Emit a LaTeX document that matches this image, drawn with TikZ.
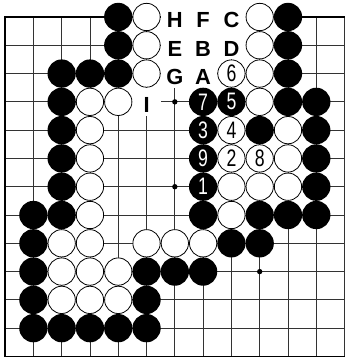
\documentclass[tikz,border=0pt]{standalone}
\usepackage{fontspec}
\setmainfont{Liberation Sans}
\newfontfamily\numfont[FakeStretch=0.74]{Liberation Sans}
\usetikzlibrary{positioning}

\begin{document}
\begin{tikzpicture}[
  every node/.style={inner sep=0pt, outer sep=0pt},
  gridline/.style={line width=0.9pt, black!80},
  edgeline/.style={line width=1.8pt, black, line join=miter},
  bstone/.style={circle, minimum size=1cm, fill=black},
  wstone/.style={circle, minimum size=0.965cm, draw=black, line width=0.8pt, fill=white},
  bnum/.style={bstone, text=white, font=\numfont\fontsize{24pt}{24pt}\selectfont},
  wnum/.style={wstone, text=black, font=\numfont\fontsize{24pt}{24pt}\selectfont},
  letterbox/.style={rectangle, minimum size=1cm, fill=white,
    text height=0.76cm, text depth=0cm,
    font=\fontsize{22pt}{22pt}\selectfont\bfseries},
  hoshi/.style={circle, minimum size=0.19cm, fill=black},
]
\useasboundingbox (-0.18,0.6) rectangle (12.04,-12.09);

% Board
\draw[gridline] (0,-12) grid (12,0);
\draw[edgeline] (12,0) -- (0,0) -- (0,-12) -- (12,-12);
\foreach \x/\y in {3/3, 6/3, 9/3, 3/6, 6/6, 9/6, 3/9, 6/9, 9/9}
  \node[hoshi] (h-\x-\y) at (\x,-\y) {};

% Letters (their boxes hide the lines)
\node[letterbox] (lH) at (6,0) {H};
\node[letterbox] (lF) at (7,0) {F};
\node[letterbox] (lC) at (8,0) {C};
\node[letterbox] (lE) at (6,-1) {E};
\node[letterbox] (lB) at (7,-1) {B};
\node[letterbox] (lD) at (8,-1) {D};
\node[letterbox] (lG) at (6,-2) {G};
\node[letterbox] (lA) at (7,-2) {A};
\node[letterbox] (lI) at (5,-3) {I};

% Black stones
\foreach \x/\y in {4/0, 10/0, 4/1, 10/1, 2/2, 3/2, 4/2, 10/2, 2/3, 10/3, 11/3,
  2/4, 9/4, 11/4, 2/5, 11/5, 2/6, 11/6, 1/7, 2/7, 7/7, 9/7, 10/7, 11/7,
  1/8, 8/8, 9/8, 1/9, 5/9, 6/9, 7/9, 1/10, 5/10, 1/11, 2/11, 3/11, 4/11, 5/11}
  \node[bstone] (b-\x-\y) at (\x,-\y) {};

% White stones
\foreach \x/\y in {5/0, 9/0, 5/1, 9/1, 5/2, 9/2, 3/3, 4/3, 9/3, 3/4, 10/4,
  3/5, 10/5, 3/6, 8/6, 9/6, 10/6, 3/7, 8/7, 2/8, 3/8, 5/8, 6/8, 7/8,
  2/9, 3/9, 4/9, 2/10, 3/10, 4/10}
  \node[wstone] (w-\x-\y) at (\x,-\y) {};

% Numbered moves
\node[bnum] (m1) at (7,-6) {1};
\node[wnum] (m2) at (8,-5) {2};
\node[bnum] (m3) at (7,-4) {3};
\node[wnum] (m4) at (8,-4) {4};
\node[bnum] (m5) at (8,-3) {5};
\node[wnum] (m6) at (8,-2) {6};
\node[bnum] (m7) at (7,-3) {7};
\node[wnum] (m8) at (9,-5) {8};
\node[bnum] (m9) at (7,-5) {9};

\end{tikzpicture}
\end{document}
